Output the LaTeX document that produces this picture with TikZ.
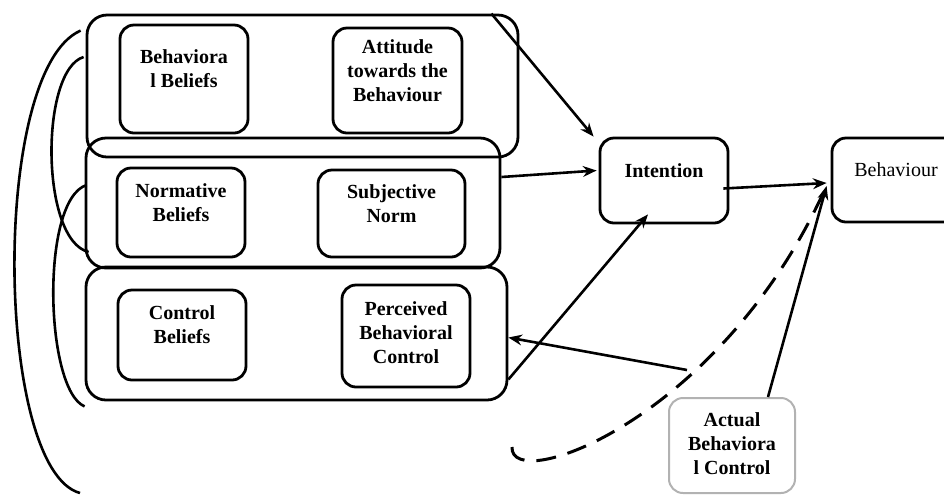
\documentclass[tikz,border=0pt]{standalone}
\usepackage{fontspec}
\setmainfont{Liberation Serif}
\usetikzlibrary{arrows.meta,positioning}
\tikzset{
  >={Stealth[length=2.4mm,width=1.9mm]},
  group/.style={draw,line width=1.4pt,rounded corners=10pt,inner sep=0pt},
  box/.style={draw,line width=1.4pt,rounded corners=7pt,align=center,
    font=\bfseries,inner sep=2pt,text depth=10pt},
  flow/.style={->,line width=1.3pt},
  loop line/.style={line width=1.3pt},
  dash line/.style={line width=1.5pt,dash pattern=on 10pt off 6pt},
}
\begin{document}
\begin{tikzpicture}[x=0.5pt,y=-0.5pt]
  \useasboundingbox (0,0) rectangle (944,495);
  % groups
  \node[group,minimum width=215.5pt,minimum height=71pt] (g1) at (302.5,86) {};
  \node[group,minimum width=207pt,minimum height=65pt] (g2) at (293,203) {};
  \node[group,minimum width=210.5pt,minimum height=66.5pt] (g3) at (296.5,333.5) {};
  % beliefs and their outcomes
  \node[box,minimum width=64pt,minimum height=54pt] (bb) at (184,79) {Behaviora\\l Beliefs};
  \node[box,minimum width=64.5pt,minimum height=52.5pt] (att) at (397.5,80.5) {Attitude\\towards the\\Behaviour};
  \node[box,minimum width=64pt,minimum height=44.5pt] (nb) at (181,212.5) {Normative\\Beliefs};
  \node[box,minimum width=73.5pt,minimum height=43.5pt] (sn) at (391.5,213.5) {Subjective\\Norm};
  \node[box,minimum width=64pt,minimum height=45pt] (cb) at (182,335) {Control\\Beliefs};
  \node[box,minimum width=64pt,minimum height=51pt,text depth=3pt] (pbc) at (406,336) {Perceived\\Behavioral\\Control};
  % intention and behaviour
  \node[box,minimum width=64pt,minimum height=42.5pt] (int) at (664,180.5) {Intention};
  \node[box,font=\normalfont,minimum width=64pt,minimum height=42pt] (beh) at (896,180) {Behaviour};
  \node[box,draw=gray!60,line width=1pt,minimum width=63pt,minimum height=47.5pt,text depth=2pt] (abc) at (732,445.5) {Actual\\Behaviora\\l Control};
  % free ends
  \coordinate (fb) at (687,370);
  \coordinate (dstart) at (512,447);
  \coordinate (aend) at (80,493);
  % arrows
  \draw[flow] ([xshift=-14pt]g1.north east) -- ([xshift=-2.5pt]int.north west);
  \draw[flow] ([yshift=13pt]g2.east) -- ([xshift=-1pt,yshift=5pt]int.west);
  \draw[flow] ([xshift=-3pt,yshift=-4pt]int.east) -- ([xshift=-2pt,yshift=-1.5pt]beh.west);
  \draw[flow] ([yshift=-23pt]g3.east) -- ([xshift=-8pt,yshift=5pt]int.south);
  \draw[flow] (fb) -- ([yshift=-2pt]g3.east);
  \draw[flow] ([xshift=18pt]abc.north) -- ([xshift=-2pt,yshift=-3pt]beh.west);
  \draw[dash line] (dstart) .. controls (510,495) and (720,420) .. ([xshift=-3pt,yshift=-5pt]beh.west);
  % feedback curves on the left
  \draw[loop line] ([xshift=-2.5pt,yshift=-8.5pt]g1.north west) .. controls (-10,70) and (-5,470) .. (aend);
  \draw[loop line] ([xshift=-1pt,yshift=14.5pt]g1.west) .. controls (40,70) and (40,240) .. ([xshift=2pt,yshift=-24.5pt]g2.west);
  \draw[loop line] ([xshift=1pt,yshift=9pt]g2.west) .. controls (40,200) and (45,390) .. ([yshift=-2.5pt]g3.south west);
\end{tikzpicture}
\end{document}
